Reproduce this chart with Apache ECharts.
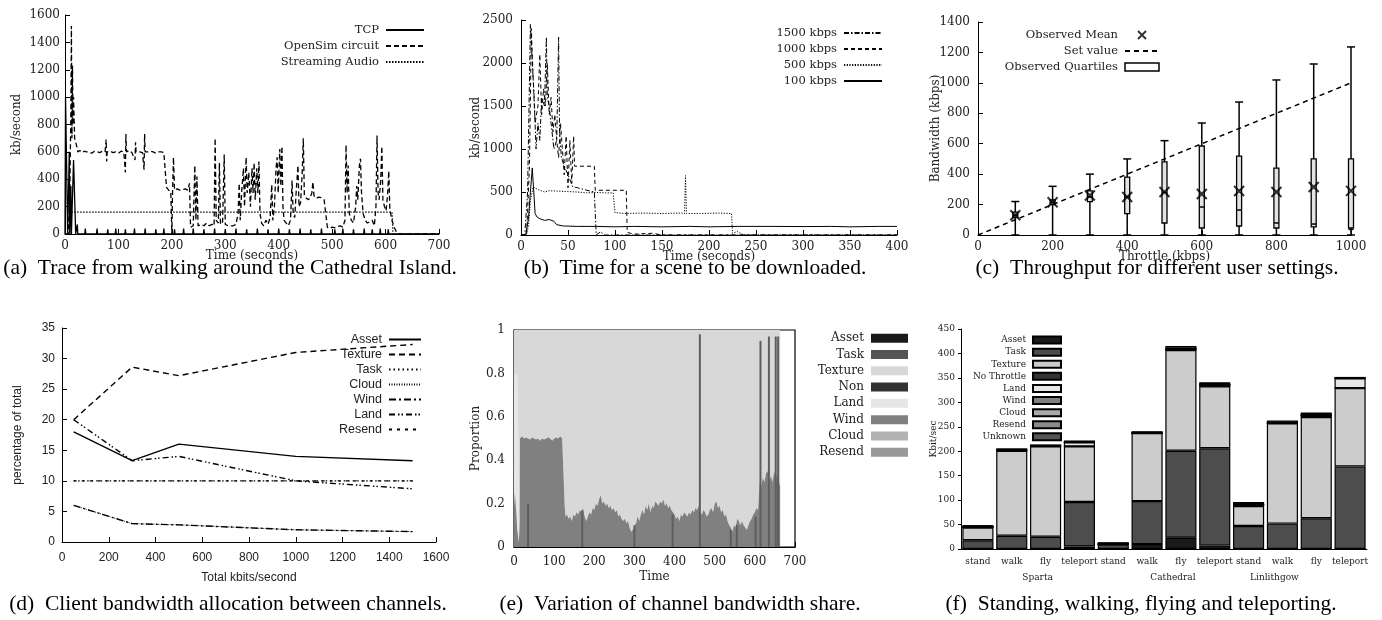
<!DOCTYPE html>
<html><head><meta charset="utf-8">
<script src="https://cdn.jsdelivr.net/npm/echarts@6/dist/echarts.min.js"></script>
<style>html,body{margin:0;padding:0;background:#fff}#c{width:1382px;height:620px}</style>
</head><body><div id="c"></div>
<script>
// ---------- (a) Trace from walking around the Cathedral Island ----------
const tcpTrace = [[0,0],[1,1000],[4,1000],[5,0],[7,0],[8,600],[9,0],[10,0],[11,350],[12,0],[15,0],[16,540],[19,540],[20,0],[22,0],[23,70],[24,0],
 [37,0],[38,40],[39,0],[59,0],[60,40],[61,0],[79,0],[80,35],[81,0],[94,0],[95,40],[96,0],[112,0],[113,35],[114,0],[129,0],[130,40],[131,0],
 [149,0],[150,40],[151,0],[169,0],[170,35],[171,0],[184,0],[185,40],[186,0],[204,0],[205,35],[206,0],[221,0],[222,40],[223,0],[239,0],[240,40],[241,0],
 [259,0],[260,35],[261,0],[279,0],[280,40],[281,0],[299,0],[300,35],[301,0],[319,0],[320,40],[321,0],[339,0],[340,35],[341,0],[359,0],[360,40],[361,0],
 [379,0],[380,35],[381,0],[399,0],[400,40],[401,0],[419,0],[420,35],[421,0],[439,0],[440,40],[441,0],[459,0],[460,35],[461,0],[479,0],[480,40],[481,0],
 [504,0],[505,35],[506,0],[519,0],[520,40],[521,0],[539,0],[540,35],[541,0],[559,0],[560,40],[561,0],[574,0],[575,35],[576,0],[589,0],[590,40],[591,0],
 [604,0],[605,35],[606,0],[640,0],[700,0]];
const opensimTrace = [[0,0],[6,0],[9,300],[11,900],[12,1520],[13,700],[14,1230],[15,800],[16,1000],[18,700],[20,690],[22,640],[24,600],[28,610],[32,595],[36,605],[40,600],[45,600],[50,590],[55,605],[60,600],[65,595],[70,605],[75,600],[77,690],[78,530],[79,600],[85,605],[90,595],[95,600],[100,590],[105,605],[110,600],[113,450],[114,730],[115,600],[120,610],[125,595],[131,540],[132,670],[133,600],[140,600],[145,595],[148,470],[149,730],[150,600],[155,600],[160,605],[165,600],[170,590],[175,600],[180,600],[185,595],[188,590],[190,340],[194,320],[198,310],[200,0],[201,250],[203,560],[205,320],[210,330],[215,320],[220,325],[225,330],[230,320],[233,370],[235,50],[240,60],[243,500],[245,100],[247,420],[249,60],[255,70],[260,60],[265,80],[270,60],[275,70],[279,60],[281,700],[283,100],[287,80],[289,520],[291,70],[295,90],[298,580],[300,70],[305,60],[310,60],[315,60],[320,70],[324,150],[326,370],[328,100],[331,330],[334,480],[336,200],[339,560],[341,300],[344,450],[347,200],[350,480],[352,300],[354,520],[356,250],[359,480],[361,300],[363,530],[365,150],[368,80],[372,60],[376,100],[380,70],[384,120],[387,360],[389,100],[392,200],[395,480],[397,560],[399,300],[402,620],[404,350],[406,640],[408,200],[410,100],[414,80],[418,60],[422,100],[425,390],[427,150],[430,120],[433,330],[436,500],[438,200],[441,230],[444,450],[446,700],[448,280],[452,260],[456,250],[460,280],[462,300],[464,380],[466,280],[470,260],[475,270],[480,265],[485,250],[488,260],[491,50],[495,40],[500,50],[505,45],[510,55],[515,60],[520,50],[524,100],[526,650],[528,300],[530,500],[532,150],[536,100],[540,80],[544,200],[546,350],[548,250],[551,500],[553,550],[555,300],[558,150],[562,100],[566,80],[570,90],[575,100],[579,60],[582,200],[584,720],[586,300],[588,250],[591,400],[593,640],[595,250],[598,200],[601,170],[604,300],[606,460],[608,180],[612,100],[616,50],[621,10],[625,0],[700,0]];
const audioTrace = [[0,0],[8,0],[10,160],[612,160],[614,0],[700,0]];

// ---------- (b) Time for a scene to be downloaded ----------
const k1500 = [[0,0],[4,0],[7,500],[10,2450],[12,2000],[14,1600],[16,1000],[18,1300],[20,1100],[22,1600],[25,1500],[27,2300],[28,1600],[30,1500],[32,1300],[35,1000],[38,1100],[40,2300],[41,1200],[43,900],[46,800],[50,700],[55,560],[60,550],[70,520],[78,500],[80,0],[85,40],[88,0],[400,0]];
const k1000 = [[0,0],[6,0],[9,800],[11,2400],[13,1800],[15,1300],[18,1500],[20,2100],[22,1400],[24,1700],[26,1500],[28,2000],[30,1400],[32,1600],[34,1200],[36,1400],[38,1100],[40,900],[42,1300],[44,1000],[46,700],[48,1150],[50,550],[52,1100],[54,600],[56,1150],[57,800],[78,800],[79,520],[112,520],[113,30],[120,10],[140,20],[150,0],[400,0]];
const k500 = [[0,0],[5,0],[8,100],[10,400],[13,560],[16,540],[20,520],[25,500],[30,515],[40,510],[50,505],[60,500],[70,490],[80,495],[90,490],[98,490],[100,260],[110,250],[130,255],[150,250],[170,255],[174,250],[175,690],[176,250],[190,250],[210,255],[224,250],[225,20],[230,40],[235,10],[240,0],[400,0]];
const k100 = [[0,0],[5,0],[8,200],[10,500],[12,780],[14,790],[15,250],[17,210],[20,190],[25,170],[30,180],[35,160],[38,120],[45,105],[60,100],[80,100],[100,95],[120,100],[150,95],[180,100],[200,95],[230,100],[267,100],[268,120],[269,100],[300,98],[330,100],[350,95],[380,100],[400,100]];

// ---------- (c) Throughput for different user settings ----------
const throttle = [100,200,300,400,500,600,700,800,900,1000];
const bwMin    = [0,0,0,0,0,0,0,0,0,0];
const bwQ1     = [115,200,220,140,79,46,59,46,53,46];
const bwMedian = [130,215,250,250,280,184,164,79,72,37];
const bwQ3     = [150,230,290,380,480,585,519,440,500,500];
const bwMax    = [220,320,400,500,620,736,874,1019,1124,1236];
const bwMean   = [130,215,260,250,283,269,289,283,315,290];
const setValue = [[0,0],[1000,1000]];

// ---------- (d) Client bandwidth allocation between channels ----------
const totalKbits = [50,300,500,1000,1500];
const pctAsset   = [18,13.3,16,14,13.3];
const pctTexture = [20,28.6,27.2,31,32.3];
const pctTask    = [10,10,10,10,10];
const pctCloud   = [6,3,2.8,2,1.7];
const pctWind    = [6,3,2.8,2,1.7];
const pctLand    = [20,13.3,14,10,8.7];
const pctResend  = [10,10,10,10,10];

// ---------- (e) Variation of channel bandwidth share ----------
const windShare = [[0,0.18],[2,0.25],[4,0.2],[6,0.15],[8,0.08],[10,0.05],[12,0.02],[14,0.1],[15,0.5],[20,0.51],[25,0.5],[30,0.505],[35,0.5],[40,0.495],[45,0.505],[50,0.5],[55,0.495],[60,0.5],[65,0.49],[70,0.5],[75,0.495],[80,0.5],[85,0.505],[90,0.5],[95,0.49],[100,0.5],[105,0.505],[110,0.5],[115,0.51],[120,0.5],[124,0.5],[126,0.2],[128,0.14],[132,0.15],[136,0.13],[140,0.14],[144,0.12],[148,0.15],[152,0.14],[156,0.16],[160,0.15],[164,0.17],[168,0.16],[172,0.18],[176,0.14],[180,0.12],[184,0.14],[188,0.16],[192,0.15],[196,0.18],[200,0.17],[204,0.2],[208,0.19],[212,0.22],[216,0.24],[220,0.2],[224,0.21],[228,0.19],[232,0.2],[236,0.18],[240,0.19],[244,0.17],[248,0.18],[252,0.16],[256,0.17],[260,0.14],[264,0.15],[268,0.13],[272,0.12],[276,0.13],[280,0.11],[284,0.12],[288,0.09],[292,0.07],[296,0.08],[300,0.1],[304,0.11],[308,0.14],[312,0.12],[316,0.15],[320,0.17],[324,0.15],[328,0.19],[332,0.17],[336,0.2],[340,0.16],[344,0.19],[348,0.18],[352,0.21],[356,0.2],[360,0.19],[364,0.21],[368,0.2],[372,0.22],[376,0.19],[380,0.2],[384,0.18],[388,0.19],[392,0.17],[396,0.16],[400,0.15],[404,0.13],[408,0.14],[412,0.12],[416,0.15],[420,0.14],[424,0.16],[428,0.15],[432,0.14],[436,0.16],[440,0.15],[444,0.17],[448,0.16],[452,0.18],[456,0.17],[460,0.19],[464,0.16],[468,0.15],[472,0.17],[476,0.16],[480,0.14],[484,0.15],[488,0.17],[492,0.18],[496,0.16],[500,0.2],[504,0.21],[508,0.18],[512,0.19],[516,0.16],[520,0.17],[524,0.14],[528,0.15],[532,0.12],[536,0.1],[540,0.09],[544,0.07],[548,0.1],[552,0.09],[556,0.13],[560,0.12],[564,0.1],[568,0.12],[572,0.1],[576,0.09],[580,0.08],[584,0.1],[588,0.12],[592,0.13],[596,0.15],[600,0.16],[604,0.18],[608,0.17],[612,0.3],[616,0.28],[620,0.32],[624,0.3],[628,0.34],[632,0.35],[636,0.3],[640,0.33],[644,0.3],[648,0.35],[652,0.32],[656,0.33],[660,0.3],[663,0.28]];
const landShare = [[0,0.75],[3,0.8],[6,0.8],[9,0.8],[11,0.5],[13,0.2],[14,0]];
const taskSpikes = [[35,0.2],[170,0.17],[300,0.1],[395,0.15],[463,0.98],[540,0.08],[555,0.1],[602,0.14],[614,0.95],[635,0.97],[652,0.97],[658,0.97]];

// ---------- (f) Standing, walking, flying and teleporting ----------
const actions = ['stand','walk','fly','teleport','stand','walk','fly','teleport','stand','walk','fly','teleport'];
const places  = ['','','Sparta','','','','Cathedral','','','Linlithgow','',''];
const fAsset    = [0,0,0,5,0,10,23,7,0,0,0,0];
const fTask     = [18,27,25,91,9,88,178,199,47,52,63,169];
const fTexture  = [26,174,185,114,1,139,206,127,41,205,207,160];
const fNoThr    = [0,0,0,0,0,0,0,0,0,0,0,0];
const fLand     = [1,1,1,8,0,0,2,3,3,1,4,20];
const fWind     = [0,0,0,0,0,0,0,0,0,0,0,0];
const fCloud    = [0,0,0,0,0,0,0,0,0,0,0,0];
const fResend   = [0,0,0,0,0,0,0,0,0,0,0,0];
const fUnknown  = [4,4,3,4,4,4,6,5,5,5,5,3];

const SERIF = 'DejaVu Serif', SANS = 'Liberation Sans', CAP = 'Liberation Serif';
const strip = n => n.split('|')[0];
const plain = v => String(v);

function merge(a, b) {
  for (const k in b) {
    if (b[k] && typeof b[k] === 'object' && !Array.isArray(b[k]) && a[k] && typeof a[k] === 'object') merge(a[k], b[k]);
    else a[k] = b[k];
  }
  return a;
}
function axis(grid, type, font, size, o) {
  return merge({
    gridIndex: grid, type: type,
    axisLine: {show: true, onZero: false, lineStyle: {color: '#000', width: 1}},
    axisTick: {show: true, inside: true, length: 5, lineStyle: {color: '#000'}},
    splitLine: {show: false},
    axisLabel: {color: '#222', fontFamily: font, fontSize: size, margin: 6, formatter: plain},
    nameLocation: 'middle', nameMoveOverlap: false,
    nameTextStyle: {color: '#222', fontFamily: font, fontSize: size}
  }, o);
}
function ln(name, xi, data, width, type) {
  return {type: 'line', name: name, xAxisIndex: xi, yAxisIndex: xi, data: data, symbol: 'none',
    lineStyle: {color: '#000', width: width, type: type}, itemStyle: {color: '#000'}, animation: false};
}
function legend(names, top, right, font, size, lh, iw, ih, extra) {
  return merge({orient: 'vertical', align: 'right', top: top, right: right, padding: 0, itemGap: 0,
    itemWidth: iw, itemHeight: ih, formatter: strip, selectedMode: false,
    textStyle: {fontFamily: font, fontSize: size, color: '#222', lineHeight: lh, padding: [0, 2, 0, 0]},
    data: names}, extra || {});
}
const hideSym = {itemStyle: {opacity: 0}};

const grids = [
  {left: 65, top: 15, width: 374, height: 219},
  {left: 521, top: 20, width: 376, height: 215},
  {left: 978, top: 22, width: 373, height: 213},
  {left: 62, top: 328, width: 374, height: 214},
  {left: 514, top: 330, width: 281, height: 217, show: true, borderColor: '#000', borderWidth: 1.2},
  {left: 961, top: 329, width: 406, height: 220}
];

const xAxes = [
  axis(0, 'value', SERIF, 12, {min: 0, max: 700, interval: 100, name: 'Time (seconds)', nameGap: 16, axisLabel: {margin: 6}}),
  axis(1, 'value', SERIF, 12, {min: 0, max: 400, interval: 50, name: 'Time (seconds)', nameGap: 16, axisLabel: {margin: 6}}),
  axis(2, 'value', SERIF, 12, {min: 0, max: 1000, interval: 200, name: 'Throttle (kbps)', nameGap: 16, axisLabel: {margin: 6}}),
  axis(3, 'value', SANS, 12, {min: 0, max: 1600, interval: 200, name: 'Total kbits/second', nameGap: 30, axisLabel: {margin: 10}}),
  axis(4, 'value', SERIF, 12, {min: 0, max: 700, interval: 100, name: 'Time', nameGap: 24, axisLabel: {margin: 9}}),
  axis(5, 'category', SERIF, 9, {data: actions.map((_, i) => String(i)), axisTick: {show: false},
    axisLabel: {margin: 8, interval: 0, formatter: v => actions[+v]}}),
  axis(5, 'category', SERIF, 9, {data: actions.map((_, i) => String(i)), position: 'bottom', offset: 20,
    axisLine: {show: false}, axisTick: {show: false},
    axisLabel: {margin: 4, interval: 0, padding: [0, 16, 0, 0], formatter: (v) => places[+v]}})
];
const yAxes = [
  axis(0, 'value', SERIF, 12, {min: 0, max: 1600, interval: 200, name: 'kb/second', nameGap: 42, axisLabel: {margin: 5}}),
  axis(1, 'value', SERIF, 12, {min: 0, max: 2500, interval: 500, name: 'kb/second', nameGap: 39, axisLabel: {margin: 8}}),
  axis(2, 'value', SERIF, 12, {min: 0, max: 1400, interval: 200, name: 'Bandwidth (kbps)', nameGap: 36, axisLabel: {margin: 8}}),
  axis(3, 'value', SANS, 12, {min: 0, max: 35, interval: 5, name: 'percentage of total', nameGap: 38, axisLabel: {margin: 7}}),
  axis(4, 'value', SERIF, 12, {min: 0, max: 1, interval: 0.2, name: 'Proportion', nameGap: 32, axisLabel: {margin: 9}}),
  axis(5, 'value', SERIF, 9, {min: 0, max: 450, interval: 50, name: 'Kbit/sec', nameGap: 23, axisLabel: {margin: 6}, axisTick: {inside: false, length: 3}})
];

const series = [
  ln('TCP|a', 0, tcpTrace, 1.3, 'solid'),
  ln('OpenSim circuit|a', 0, opensimTrace, 1.3, [5, 3]),
  ln('Streaming Audio|a', 0, audioTrace, 1.2, [1.5, 1.5]),

  ln('1500 kbps|b', 1, k1500, 1, [5, 2, 1.5, 2]),
  ln('1000 kbps|b', 1, k1000, 1, [4, 3]),
  ln('500 kbps|b', 1, k500, 1, [1.2, 1.5]),
  ln('100 kbps|b', 1, k100, 1, 'solid'),

  {type: 'scatter', name: 'Observed Mean|c', xAxisIndex: 2, yAxisIndex: 2, z: 5,
    data: throttle.map((t, i) => [t, bwMean[i]]),
    symbol: 'path://M0,0L10,10M10,0L0,10', symbolSize: 10,
    itemStyle: {color: 'none', borderColor: '#000', borderWidth: 2}, animation: false},
  ln('Set value|c', 2, setValue, 1.5, [5, 4]),
  {type: 'custom', name: 'Observed Quartiles|c', xAxisIndex: 2, yAxisIndex: 2, z: 3,
    data: throttle.map((t, i) => [t, bwMin[i], bwQ1[i], bwMedian[i], bwQ3[i], bwMax[i]]),
    encode: {x: 0, y: [1, 2, 3, 4, 5]},
    itemStyle: {color: '#e6e6e6', borderColor: '#000'},
    renderItem: function (params, api) {
      const x = api.value(0);
      const pMin = api.coord([x, api.value(1)]), pQ1 = api.coord([x, api.value(2)]),
        pMed = api.coord([x, api.value(3)]), pQ3 = api.coord([x, api.value(4)]), pMax = api.coord([x, api.value(5)]);
      const w = 5, cw = 4;
      const st = {stroke: '#000', lineWidth: 1.5};
      return {type: 'group', children: [
        {type: 'line', shape: {x1: pMin[0], y1: pMin[1], x2: pMax[0], y2: pMax[1]}, style: st},
        {type: 'line', shape: {x1: pMax[0] - cw, y1: pMax[1], x2: pMax[0] + cw, y2: pMax[1]}, style: st},
        {type: 'line', shape: {x1: pMin[0] - cw, y1: pMin[1], x2: pMin[0] + cw, y2: pMin[1]}, style: st},
        {type: 'rect', shape: {x: pQ1[0] - w / 2, y: pQ3[1], width: w, height: pQ1[1] - pQ3[1]}, style: {fill: '#e3e3e3', stroke: '#000', lineWidth: 1.3}},
        {type: 'line', shape: {x1: pMed[0] - w / 2, y1: pMed[1], x2: pMed[0] + w / 2, y2: pMed[1]}, style: st}
      ]};
    }, animation: false},

  ln('Asset|d', 3, totalKbits.map((x, i) => [x, pctAsset[i]]), 1.4, 'solid'),
  ln('Texture|d', 3, totalKbits.map((x, i) => [x, pctTexture[i]]), 1.4, [6, 4]),
  ln('Task|d', 3, totalKbits.map((x, i) => [x, pctTask[i]]), 1.4, [1.5, 3]),
  ln('Cloud|d', 3, totalKbits.map((x, i) => [x, pctCloud[i]]), 1, [1, 1.5]),
  ln('Wind|d', 3, totalKbits.map((x, i) => [x, pctWind[i]]), 1.4, [7, 3, 2, 3]),
  ln('Land|d', 3, totalKbits.map((x, i) => [x, pctLand[i]]), 1.4, [6, 3, 1.5, 2, 1.5, 3]),
  ln('Resend|d', 3, totalKbits.map((x, i) => [x, pctResend[i]]), 1.4, [3, 5]),
];

// (e) area series
const eColors = {Asset: '#1a1a1a', Task: '#555555', Texture: '#d8d8d8', Non: '#333333', Land: '#e6e6e6', Wind: '#808080', Cloud: '#b3b3b3', Resend: '#999999'};
function eArea(name, data, origin, z) {
  return {type: 'line', name: name + '|e', xAxisIndex: 4, yAxisIndex: 4, data: data, symbol: 'none', z: z,
    lineStyle: {width: 0}, itemStyle: {color: eColors[name]},
    areaStyle: {color: eColors[name], opacity: 1, origin: origin}, animation: false};
}
series.push(
  eArea('Asset', [], 'start', 2),
  {type: 'bar', name: 'Task|e', xAxisIndex: 4, yAxisIndex: 4, data: taskSpikes, barWidth: 2, z: 6,
    itemStyle: {color: '#5e5e5e'}, animation: false},
  eArea('Texture', windShare, 'end', 2),
  eArea('Non', [], 'start', 2),
  eArea('Land', landShare, 'start', 3),
  eArea('Wind', windShare, 'start', 4),
  eArea('Cloud', [], 'start', 2),
  eArea('Resend', [], 'start', 2)
);

// (f) stacked bars
const fColors = {'Asset': '#1a1a1a', 'Task': '#4d4d4d', 'Texture': '#cccccc', 'No Throttle': '#333333', 'Land': '#e6e6e6',
  'Wind': '#808080', 'Cloud': '#aaaaaa', 'Resend': '#8a8a8a', 'Unknown': '#555555'};
const fData = [['Asset', fAsset], ['Task', fTask], ['Texture', fTexture], ['No Throttle', fNoThr], ['Land', fLand],
  ['Wind', fWind], ['Cloud', fCloud], ['Resend', fResend], ['Unknown', fUnknown]];
fData.forEach(([n, d]) => series.push({type: 'bar', name: n + '|f', xAxisIndex: 5, yAxisIndex: 5, stack: 'f', data: d,
  barCategoryGap: '8%', itemStyle: {color: fColors[n], borderColor: '#000', borderWidth: 1.2}, animation: false}));

const legends = [
  legend(['TCP|a', 'OpenSim circuit|a', 'Streaming Audio|a'], 22, 957, SERIF, 11.5, 16, 38, 10, hideSym),
  legend(['1500 kbps|b', '1000 kbps|b', '500 kbps|b', '100 kbps|b'], 25, 499, SERIF, 11.5, 16, 38, 10, hideSym),
  legend(['Observed Mean|c', {name: 'Set value|c', itemStyle: {opacity: 0}},
    {name: 'Observed Quartiles|c', icon: 'rect', itemStyle: {color: '#fff', borderColor: '#000', borderWidth: 1.5}}],
    27, 222, SERIF, 11.5, 16, 34, 8),
  legend(['Asset|d', 'Texture|d', 'Task|d', 'Cloud|d', 'Wind|d', 'Land|d', 'Resend|d'], 332, 960, SANS, 12.5, 15, 32, 10, hideSym),
  legend(Object.keys(eColors).map(n => ({name: n + '|e', icon: 'rect', itemStyle: {color: eColors[n], borderWidth: 0}})),
    330, 474, SERIF, 12, 16.3, 37, 9),
  legend(fData.map(([n]) => ({name: n + '|f', icon: 'rect'})), 334, 320, SERIF, 9, 12.1, 28, 7)
];

function cap(x, y, t) {
  return {type: 'text', x: x, y: y, silent: true,
    style: {text: t, font: '21.5px "' + CAP + '"', fill: '#000', textAlign: 'center', textVerticalAlign: 'middle', align: 'center', verticalAlign: 'middle'}};
}
const graphics = [
  cap(230, 268, '(a)\u2002Trace from walking around the Cathedral Island.'),
  cap(695, 268, '(b)\u2002Time for a scene to be downloaded.'),
  cap(1157, 268, '(c)\u2002Throughput for different user settings.'),
  cap(228, 604, '(d)\u2002Client bandwidth allocation between channels.'),
  cap(680, 604, '(e)\u2002Variation of channel bandwidth share.'),
  cap(1141, 604, '(f)\u2002Standing, walking, flying and teleporting.')
];

const chart = echarts.init(document.getElementById('c'), null, {renderer: 'canvas'});
chart.setOption({
  animation: false,
  backgroundColor: '#fff',
  grid: grids, xAxis: xAxes, yAxis: yAxes, series: series, legend: legends, graphic: graphics
});
</script></body></html>
